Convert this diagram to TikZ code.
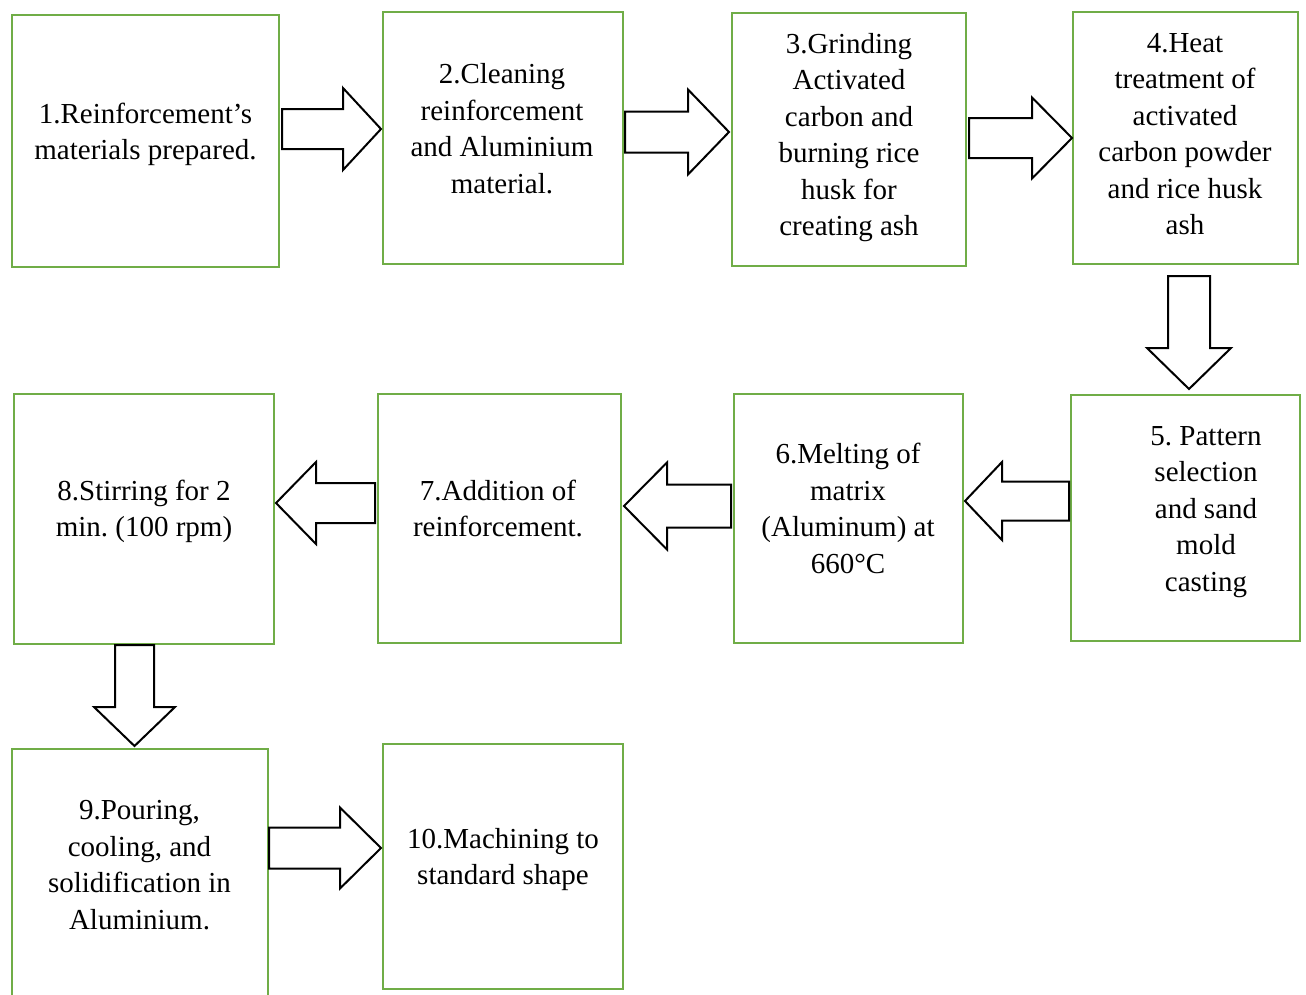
\documentclass[tikz,border=0pt]{standalone}
\usepackage{fontspec}
\setmainfont{Liberation Serif}
\frenchspacing
\definecolor{boxgreen}{RGB}{112,173,71}
\newcommand{\lines}[1]{{\fontsize{29}{36.5}\selectfont\begin{tabular}{@{}c@{}}#1\end{tabular}}}
\newcommand{\harr}[6]{\draw[blk] (#1,#4-#5) -- (#2,#4-#5) -- (#2,#4-#6) -- (#3,#4) -- (#2,#4+#6) -- (#2,#4+#5) -- (#1,#4+#5) -- cycle;}
\newcommand{\varr}[6]{\draw[blk] (#4-#5,#1) -- (#4-#5,#2) -- (#4-#6,#2) -- (#4,#3) -- (#4+#6,#2) -- (#4+#5,#2) -- (#4+#5,#1) -- cycle;}
\begin{document}
\begin{tikzpicture}[x=1pt,y=-1pt,
  box/.style={draw=boxgreen, line width=2.7pt, rectangle, inner sep=0pt},
  txt/.style={inner sep=0pt, text=black},
  blk/.style={draw=black, fill=white, line width=2pt, line join=miter}]
\useasboundingbox (0,0) rectangle (1306,994);
% boxes
\node[box, minimum width=267pt, minimum height=252pt] (b1) at (145.5,141) {};
\node[box, minimum width=240pt, minimum height=252pt] (b2) at (503,138) {};
\node[box, minimum width=234pt, minimum height=253pt] (b3) at (849,139.5) {};
\node[box, minimum width=225pt, minimum height=252pt] (b4) at (1185.5,138) {};
\node[box, minimum width=229pt, minimum height=246pt] (b5) at (1185.5,518) {};
\node[box, minimum width=229pt, minimum height=249pt] (b6) at (848.5,518.5) {};
\node[box, minimum width=243pt, minimum height=249pt] (b7) at (499.5,518.5) {};
\node[box, minimum width=260pt, minimum height=250pt] (b8) at (144,519) {};
\node[box, minimum width=256pt, minimum height=255pt] (b9) at (140,876.5) {};
\node[box, minimum width=240pt, minimum height=245pt] (b10) at (503,866.5) {};
% texts
\node[txt] (t1) at (145.5,134) {\lines{1.Reinforcement’s\\materials prepared.}};
\node[txt] (t2) at (502,131) {\lines{2.Cleaning\\reinforcement\\and Aluminium\\material.}};
\node[txt] (t3) at (849,137) {\lines{3.Grinding\\Activated\\carbon and\\burning rice\\husk for\\creating ash}};
\node[txt] (t4) at (1185,136) {\lines{4.Heat\\treatment of\\activated\\carbon powder\\and rice husk\\ash}};
\node[txt] (t5) at (1206,511) {\lines{5. Pattern\\selection\\and sand\\mold\\casting}};
\node[txt] (t6) at (848,511) {\lines{6.Melting of\\matrix\\(Aluminum) at\\660°C}};
\node[txt] (t7) at (498,511) {\lines{7.Addition of\\reinforcement.}};
\node[txt] (t8) at (144,511) {\lines{8.Stirring for 2\\min. (100 rpm)}};
\node[txt] (t9) at (139.5,867) {\lines{9.Pouring,\\cooling, and\\solidification in\\Aluminium.}};
\node[txt] (t10) at (503,859) {\lines{10.Machining to\\standard shape}};
% block arrows
\harr{282}{343}{381}{129}{20}{41}
\harr{625}{688}{729}{132}{20.5}{42.5}
\harr{969}{1032}{1072}{138}{20}{40.5}
\varr{276}{348}{389}{1189}{21}{42}
\harr{1069}{1002}{965}{501}{19.5}{39}
\harr{731}{667}{624}{506}{21.5}{43.5}
\harr{375}{316}{276}{503}{20}{41}
\varr{645}{707}{746}{134.5}{19.5}{40.5}
\harr{269}{340}{381}{848}{20.5}{40.5}
\end{tikzpicture}
\end{document}
